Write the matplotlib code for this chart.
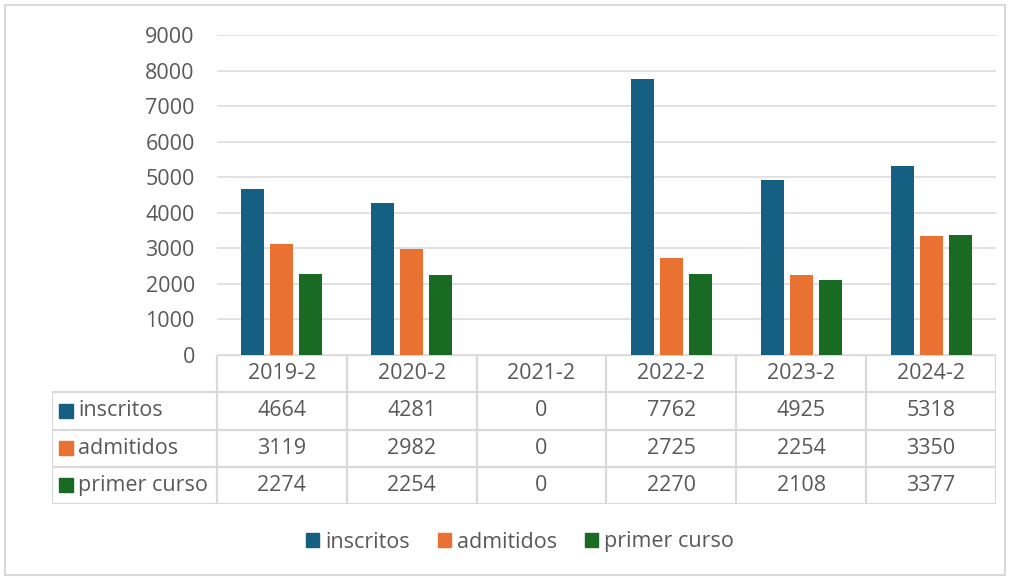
import matplotlib.pyplot as plt
from matplotlib.patches import Rectangle, Patch
from matplotlib.lines import Line2D

periodos = ['2019-2', '2020-2', '2021-2', '2022-2', '2023-2', '2024-2']
inscritos = [4664, 4281, 0, 7762, 4925, 5318]
admitidos = [3119, 2982, 0, 2725, 2254, 3350]
primer_curso = [2274, 2254, 0, 2270, 2108, 3377]
series = ['inscritos', 'admitidos', 'primer curso']
colores = ['#156082', '#E97132', '#196B24']
gris_txt = '#595959'
gris_lin = '#D9D9D9'

plt.rcParams['font.family'] = ['Open Sans', 'DejaVu Sans']
fs = 15.5

W, H = 1012, 578
fig = plt.figure(figsize=(W / 100, H / 100), dpi=100)

def fx(px):
    return px / W

def fy(py):
    return 1 - py / H

# marco exterior
fig.patches.append(Rectangle((fx(5), fy(575)), fx(1000), 570 / H, transform=fig.transFigure,
                             fill=False, edgecolor=gris_lin, lw=1.5))

# grafico de barras
x0, x1, ytop, ybot = 217, 996, 35, 355
ax = fig.add_axes([fx(x0), fy(ybot), fx(x1 - x0), (ybot - ytop) / H])
datos = [inscritos, admitidos, primer_curso]
ancho = 0.177
paso = 0.223
for i, (vals, c) in enumerate(zip(datos, colores)):
    pos = [k + (i - 1) * paso for k in range(len(periodos))]
    ax.bar(pos, vals, width=ancho, color=c, zorder=3)
ax.set_xlim(-0.5, len(periodos) - 0.5)
ax.set_ylim(0, 9000)
ax.set_yticks(range(0, 9001, 1000))
ax.yaxis.grid(True, color=gris_lin, lw=1.1, zorder=0)
ax.tick_params(axis='y', length=0, pad=16, labelsize=fs, labelcolor=gris_txt)
ax.set_xticks([])
for s in ax.spines.values():
    s.set_visible(False)

# tabla de datos
tx0, tbot = 52, 504
etiq = 165 / 130
axt = fig.add_axes([fx(tx0), fy(tbot), fx(x1 - tx0), (tbot - ybot) / H])
axt.set_xlim(-0.5 - etiq, len(periodos) - 0.5)
axt.set_ylim(4, 0)
axt.axis('off')
lw_t = 1.6
n = len(periodos)
# lineas horizontales
axt.add_line(Line2D([-0.5, n - 0.5], [0, 0], color=gris_lin, lw=lw_t))
for r in range(1, 5):
    axt.add_line(Line2D([-0.5 - etiq, n - 0.5], [r, r], color=gris_lin, lw=lw_t))
# lineas verticales
axt.add_line(Line2D([-0.5 - etiq, -0.5 - etiq], [1, 4], color=gris_lin, lw=lw_t))
for k in range(n + 1):
    axt.add_line(Line2D([k - 0.5, k - 0.5], [0, 4], color=gris_lin, lw=lw_t))
for k, p in enumerate(periodos):
    axt.text(k, 0.5, p, ha='center', va='center', fontsize=fs, color=gris_txt)
for r, (nombre, vals, c) in enumerate(zip(series, datos, colores)):
    y = r + 1.5
    axt.add_patch(Rectangle((-0.5 - etiq + 0.055, y - 0.19), 0.108, 0.38, color=c))
    axt.text(-0.5 - etiq + 0.2, y, nombre, ha='left', va='center', fontsize=fs, color=gris_txt)
    for k, v in enumerate(vals):
        axt.text(k, y, str(v), ha='center', va='center', fontsize=fs, color=gris_txt)

# leyenda
handles = [Patch(color=c, label=s) for s, c in zip(series, colores)]
fig.legend(handles=handles, loc='center', bbox_to_anchor=(fx(520), fy(542)), ncol=3,
           frameon=False, fontsize=fs, labelcolor=gris_txt, handlelength=0.6,
           handleheight=0.6, handletextpad=0.3, columnspacing=1.3)

fig.savefig('out.png', dpi=100)
